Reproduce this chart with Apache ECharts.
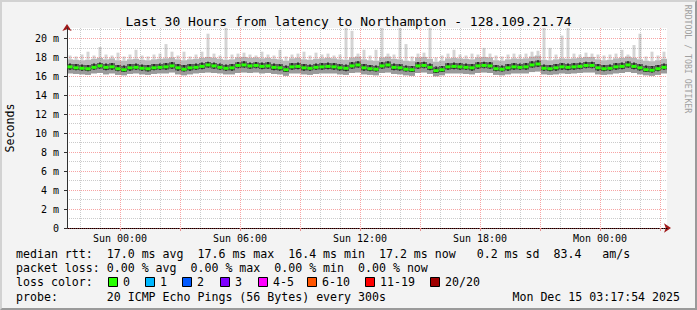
<!DOCTYPE html>
<html><head><meta charset="utf-8">
<script src="https://cdn.jsdelivr.net/npm/echarts@6/dist/echarts.min.js"></script>
<style>
html,body{margin:0;padding:0;background:#f3f3f3;}
#c{width:697px;height:310px;}
#frame{position:absolute;left:0;top:0;width:697px;height:310px;box-sizing:border-box;border-top:2px solid #d2d2d2;border-left:2px solid #d2d2d2;border-bottom:2px solid #9a9a9a;border-right:2px solid #9a9a9a;pointer-events:none;}
</style></head>
<body><div id="c"></div><div id="frame"></div>
<script>
// ---- DATA (hours relative to Sun 00:00; values in ms) ----
const START_HOUR = -2.5;
const STEP_HOURS = 0.3;
const X_MIN = -2.65, X_MAX = 27.35;
const Y_MAX = 21.1;

const medianMs = [
 17.0,16.9,16.85,16.8,16.95,17.1,16.95,17.0,16.8,16.7,16.9,16.95,16.85,16.8,16.9,16.95,17.0,17.1,16.9,16.75,16.9,16.95,17.05,17.2,17.1,
 16.95,16.85,16.9,17.15,17.2,17.1,17.15,17.05,17.1,16.95,16.9,16.7,17.0,17.05,16.9,16.85,16.95,17.0,17.05,17.0,16.9,16.85,17.1,17.2,16.9,
 16.8,16.75,17.1,17.2,16.95,16.9,16.75,16.7,17.1,17.15,16.95,16.6,16.7,17.0,17.05,17.0,16.95,16.9,17.1,17.15,17.1,16.8,16.75,16.9,17.0,
 16.95,17.0,17.2,17.3,16.85,16.8,16.9,17.0,16.95,17.0,17.05,17.15,17.15,16.9,16.8,16.85,17.0,17.05,17.2,17.05,16.9,16.7,16.65,16.8,16.95
];
const smokeMin = [
 16.3,16.25,16.2,16.15,16.3,16.35,16.2,16.3,16.15,16.1,16.25,16.3,16.2,16.15,16.25,16.3,16.3,16.4,16.2,16.1,16.2,16.3,16.35,16.4,16.35,
 16.3,16.2,16.2,16.35,16.4,16.35,16.4,16.3,16.35,16.25,16.2,16.05,16.3,16.3,16.2,16.15,16.25,16.3,16.3,16.3,16.2,16.15,16.35,16.4,16.2,
 16.15,16.1,16.35,16.4,16.25,16.2,16.1,16.05,16.35,16.4,16.25,16.0,16.1,16.3,16.3,16.3,16.25,16.2,16.35,16.4,16.35,16.15,16.1,16.2,16.3,
 16.3,16.3,16.45,16.5,16.2,16.15,16.2,16.3,16.25,16.3,16.35,16.4,16.4,16.2,16.15,16.2,16.3,16.35,16.45,16.35,16.2,16.1,16.05,16.15,16.3
];
const smokeLowQ = [
 16.7,16.65,16.6,16.55,16.7,16.8,16.65,16.7,16.55,16.45,16.6,16.7,16.6,16.5,16.65,16.7,16.7,16.8,16.6,16.5,16.6,16.7,16.75,16.9,16.8,
 16.7,16.6,16.6,16.85,16.9,16.8,16.85,16.75,16.8,16.65,16.6,16.45,16.7,16.75,16.6,16.6,16.7,16.7,16.75,16.7,16.6,16.55,16.8,16.9,16.6,
 16.55,16.5,16.8,16.9,16.65,16.6,16.5,16.45,16.8,16.85,16.65,16.35,16.45,16.7,16.75,16.7,16.7,16.6,16.8,16.85,16.8,16.55,16.5,16.6,16.7,
 16.7,16.7,16.9,17.0,16.6,16.55,16.6,16.7,16.65,16.7,16.75,16.85,16.85,16.6,16.55,16.6,16.7,16.75,16.9,16.75,16.6,16.45,16.4,16.55,16.7
];
const smokeHighQ = [
 17.35,17.3,17.25,17.2,17.35,17.45,17.35,17.4,17.2,17.15,17.3,17.35,17.25,17.2,17.3,17.35,17.4,17.5,17.3,17.2,17.3,17.35,17.45,17.55,17.45,
 17.35,17.25,17.3,17.5,17.6,17.45,17.5,17.45,17.5,17.35,17.3,17.15,17.4,17.45,17.3,17.25,17.35,17.4,17.45,17.4,17.3,17.25,17.5,17.6,17.3,
 17.2,17.15,17.5,17.6,17.35,17.3,17.15,17.1,17.5,17.55,17.35,17.05,17.1,17.4,17.45,17.4,17.35,17.3,17.5,17.55,17.5,17.2,17.15,17.3,17.4,
 17.35,17.4,17.6,17.7,17.25,17.2,17.3,17.4,17.35,17.4,17.45,17.55,17.55,17.3,17.2,17.25,17.4,17.45,17.6,17.45,17.3,17.15,17.1,17.2,17.35
];
const smokeHigh = [
 17.8,17.75,17.7,17.75,17.85,17.95,17.8,17.9,17.7,17.65,17.8,17.85,17.75,17.7,17.8,17.85,17.9,18.0,17.8,17.7,17.8,17.85,17.95,18.05,17.95,
 17.85,17.75,17.8,18.0,18.05,17.95,18.0,17.9,17.95,17.85,17.8,17.65,17.9,17.95,17.8,17.75,17.85,17.9,17.95,17.9,17.8,17.75,18.0,18.1,17.8,
 17.7,17.65,18.0,18.1,17.85,17.8,17.65,17.6,18.0,18.05,17.85,17.55,17.65,17.9,17.95,17.9,17.85,17.8,18.0,18.05,18.0,17.7,17.65,17.8,17.9,
 17.85,17.9,18.1,18.2,17.75,17.7,17.8,17.9,17.85,17.9,17.95,18.05,18.05,17.8,17.7,17.75,17.9,17.95,18.1,17.95,17.8,17.65,17.6,17.7,17.85
];
const smokeMax = [
 18.2,18.1,18.3,18.6,18.2,19.1,18.3,18.2,18.5,18.1,18.3,18.8,18.2,18.1,18.3,18.4,19.4,18.6,18.2,18.6,18.1,18.3,18.6,20.5,18.4,
 18.2,21.1,18.3,18.4,18.5,18.3,18.2,18.6,18.3,18.2,18.8,18.1,18.3,18.4,18.6,18.2,18.5,18.3,18.4,18.2,18.3,21.1,20.8,18.4,18.8,
 18.2,18.8,21.1,18.4,18.3,21.1,19.4,18.1,18.4,18.5,21.1,18.0,18.2,18.4,18.8,18.3,18.2,18.4,18.3,19.0,18.4,18.2,18.1,18.3,18.4,
 18.3,18.4,18.6,18.7,21.1,19.0,18.3,20.3,21.1,18.4,18.3,18.5,18.4,18.3,18.2,18.3,18.4,18.8,18.3,19.3,20.5,18.1,18.6,18.2,18.6
];

const xTickHours = [0, 6, 12, 18, 24];
const xTickLabels = ['Sun 00:00', 'Sun 06:00', 'Sun 12:00', 'Sun 18:00', 'Mon 00:00'];
const xMajorGridHours = [0, 3, 6, 9, 12, 15, 18, 21, 24, 27];
const xMinorGridHours = [-2, -1, 1, 2, 4, 5, 7, 8, 10, 11, 13, 14, 16, 17, 19, 20, 22, 23, 25, 26];
const yTickValues = [0, 2, 4, 6, 8, 10, 12, 14, 16, 18, 20];
const yMinorValues = [1, 3, 5, 7, 9, 11, 13, 15, 17, 19, 21];

const titleText = 'Last 30 Hours from latency to Northampton - 128.109.21.74';
const statsLine = 'median rtt:  17.0 ms avg  17.6 ms max  16.4 ms min  17.2 ms now   0.2 ms sd  83.4   am/s';
const lossLine = 'packet loss: 0.00 % avg  0.00 % max  0.00 % min  0.00 % now';
const lossColorTitle = 'loss color:';
const lossLabels = ['0', '1', '2', '3', '4-5', '6-10', '11-19', '20/20'];
const lossColors = ['#26ff00', '#00b8ff', '#0059ff', '#7e00ff', '#ff00ff', '#ff5500', '#ff0000', '#a00000'];
const probeLine = 'probe:       20 ICMP Echo Pings (56 Bytes) every 300s';
const dateText = 'Mon Dec 15 03:17:54 2025';
const watermark = 'RRDTOOL / TOBI OETIKER';

// ---- CHART ----
const MONO = '"DejaVu Sans Mono", monospace';
const times = medianMs.map((_, i) => START_HOUR + i * STEP_HOURS);
const smokeData = times.map((t, i) => [t, smokeMin[i], smokeLowQ[i], smokeHighQ[i], smokeHigh[i], smokeMax[i], medianMs[i]]);
const medianData = times.map((t, i) => [t, medianMs[i]]);

function renderSmoke(params, api) {
  const t = api.value(0);
  const w = api.size([STEP_HOURS, 0])[0];
  const children = [];
  const spA = api.coord([t, api.value(4)]);
  const spB = api.coord([t, api.value(5)]);
  children.push({type: 'rect', shape: {x: spA[0] - 1.5, y: spB[1], width: 3, height: spA[1] - spB[1]}, style: {fill: '#d4d4d4'}});
  const bands = [[1, 2, '#9a9a9a'], [2, 6, '#4a4a4a'], [6, 3, '#5e5e5e'], [3, 4, '#b8b8b8']];
  bands.forEach(function (b) {
    const p1 = api.coord([t, api.value(b[0])]);
    const p2 = api.coord([t, api.value(b[1])]);
    children.push({type: 'rect', shape: {x: p1[0] - w / 2, y: p2[1], width: w, height: p1[1] - p2[1]}, style: {fill: b[2]}});
  });
  const c1 = api.coord([t, api.value(2)]);
  const c2 = api.coord([t, api.value(3)]);
  children.push({type: 'rect', shape: {x: c1[0] - 1, y: c2[1], width: 2, height: c1[1] - c2[1]}, style: {fill: '#2e2e2e'}});
  return {type: 'group', children: children};
}

function renderMedian(params, api) {
  const t = api.value(0);
  const w = api.size([STEP_HOURS, 0])[0];
  const p = api.coord([t, api.value(1)]);
  return {type: 'rect', shape: {x: p[0] - w / 2 + 0.5, y: p[1] - 1.5, width: w - 1, height: 3}, style: {fill: '#26ff00'}};
}

const LEG_X = 16;
const legendFont = '11.6px ' + MONO;
const lossBoxX = [108, 145, 182, 220, 258, 307, 365, 430];
const graphics = [
  {type: 'text', x: LEG_X, y: 254, style: {text: statsLine, font: legendFont, fill: '#000', verticalAlign: 'middle'}},
  {type: 'text', x: LEG_X, y: 268, style: {text: lossLine, font: legendFont, fill: '#000', verticalAlign: 'middle'}},
  {type: 'text', x: LEG_X, y: 282, style: {text: lossColorTitle, font: legendFont, fill: '#000', verticalAlign: 'middle'}},
  {type: 'text', x: LEG_X, y: 297, style: {text: probeLine, font: legendFont, fill: '#000', verticalAlign: 'middle'}},
  {type: 'text', x: 680, y: 297, style: {text: dateText, font: legendFont, fill: '#000', align: 'right', verticalAlign: 'middle'}},
  {type: 'text', x: 10, y: 128, rotation: Math.PI / 2, style: {text: 'Seconds', font: legendFont, fill: '#000', align: 'center', verticalAlign: 'middle'}},
  {type: 'text', x: 688, y: 59, rotation: -Math.PI / 2, style: {text: watermark, font: '8.2px ' + MONO, fill: '#a0a0a0', align: 'center', verticalAlign: 'middle'}}
];
lossLabels.forEach(function (lab, i) {
  graphics.push({type: 'rect', shape: {x: lossBoxX[i] + 0.5, y: 277.5, width: 9, height: 9}, style: {fill: lossColors[i], stroke: '#000', lineWidth: 1}});
  graphics.push({type: 'text', x: lossBoxX[i] + 15, y: 282, style: {text: lab, font: legendFont, fill: '#000', verticalAlign: 'middle'}});
});

const chart = echarts.init(document.getElementById('c'), null, {renderer: 'svg', width: 697, height: 310});
chart.setOption({
  animation: false,
  backgroundColor: '#f3f3f3',
  title: {text: titleText, left: 'center', top: 10, textStyle: {fontFamily: MONO, fontSize: 13, fontWeight: 'normal', color: '#000'}},
  grid: [
    {left: 67, right: 30, top: 28, bottom: 82, show: true, backgroundColor: '#ffffff', borderWidth: 0},
    {left: 67, right: 30, top: 28, bottom: 82, show: false}
  ],
  xAxis: [
    {type: 'value', gridIndex: 0, min: X_MIN, max: X_MAX, z: 5, position: 'bottom',
     axisLine: {show: true, onZero: false, lineStyle: {color: '#000', width: 1}},
     axisTick: {show: true, length: 3, customValues: xMajorGridHours, lineStyle: {color: '#e89090'}},
     axisLabel: {customValues: xTickHours, margin: 5, fontFamily: MONO, fontSize: 10, color: '#000',
       formatter: function (v) { const k = xTickHours.indexOf(Math.round(v)); return k >= 0 ? xTickLabels[k] : ''; }},
     splitLine: {show: true, lineStyle: {color: 'rgba(240,90,90,0.55)', type: [1, 1], width: 1}}},
    {type: 'value', gridIndex: 1, min: X_MIN, max: X_MAX, z: 4, position: 'bottom',
     axisLine: {show: true, onZero: false, lineStyle: {color: '#a01818', width: 0}, symbol: ['none', 'arrow'], symbolSize: [7, 7], symbolOffset: [0, 4]},
     axisTick: {show: false, customValues: xMinorGridHours},
     axisLabel: {show: false},
     splitLine: {show: true, lineStyle: {color: 'rgba(140,140,140,0.45)', type: [1, 1], width: 1}}}
  ],
  yAxis: [
    {type: 'value', gridIndex: 0, min: 0, max: Y_MAX, z: 6, position: 'left',
     axisLine: {show: true, onZero: false, lineStyle: {color: '#303030', width: 1}},
     axisTick: {show: true, length: 3, customValues: yTickValues, lineStyle: {color: '#303030'}},
     axisLabel: {customValues: yTickValues, margin: 8, fontFamily: MONO, fontSize: 10, color: '#000',
       formatter: function (v) { return v === 0 ? '0' : v + ' m'; }},
     splitLine: {show: true, lineStyle: {color: 'rgba(240,90,90,0.55)', type: [1, 1], width: 1}}},
    {type: 'value', gridIndex: 1, min: 0, max: Y_MAX, z: 4, position: 'left',
     axisLine: {show: true, onZero: false, lineStyle: {color: '#a01818', width: 0}, symbol: ['none', 'arrow'], symbolSize: [7, 7], symbolOffset: [0, 4]},
     axisTick: {show: false, customValues: yMinorValues},
     axisLabel: {show: false},
     splitLine: {show: true, lineStyle: {color: 'rgba(140,140,140,0.45)', type: [1, 1], width: 1}}}
  ],
  series: [
    {type: 'custom', name: 'smoke', xAxisIndex: 0, yAxisIndex: 0, renderItem: renderSmoke, data: smokeData,
     encode: {x: 0, y: [1, 2, 3, 4, 5]}, clip: true, z: 2, silent: true},
    {type: 'custom', name: 'median', xAxisIndex: 0, yAxisIndex: 0, renderItem: renderMedian, data: medianData,
     encode: {x: 0, y: 1}, clip: true, z: 7, silent: true}
  ],
  graphic: graphics
});
</script>
</body></html>
